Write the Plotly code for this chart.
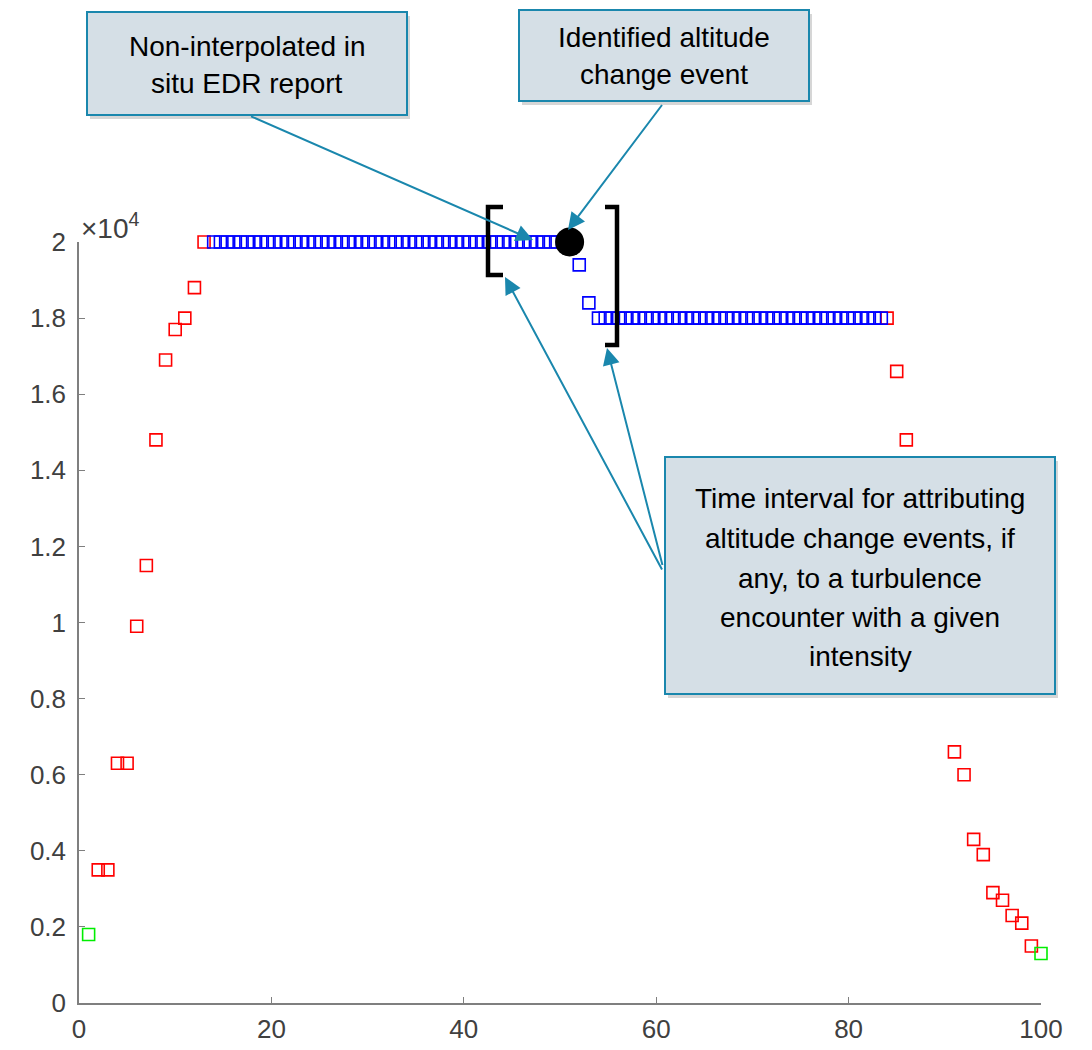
import plotly.graph_objects as go

# ---------------- data ----------------
# climb / descent reports (red), time index vs altitude (ft)
red_x = [2, 3, 4, 5, 6, 7, 8, 9, 10, 11, 12, 13,
         84, 85, 86, 91, 92, 93, 94, 95, 96, 97, 98, 99]
red_y = [3500, 3500, 6300, 6300, 9900, 11500, 14800, 16900, 17700, 18000, 18800, 20000,
         18000, 16600, 14800, 6600, 6000, 4300, 3900, 2900, 2700, 2300, 2100, 1500]

# first / last reports (green)
green_x = [1, 100]
green_y = [1800, 1300]

# interpolated cruise reports (blue)
blue_x = [14.0, 14.7, 15.4, 16.1, 16.8, 17.5, 18.2, 18.9, 19.6, 20.3, 21.0, 21.7, 22.4,
          23.1, 23.8, 24.5, 25.2, 25.9, 26.6, 27.3, 28.0, 28.7, 29.4, 30.1, 30.8, 31.5,
          32.2, 32.9, 33.6, 34.3, 35.0, 35.7, 36.4, 37.1, 37.8, 38.5, 39.2, 39.9, 40.6,
          41.3, 42.0, 42.7, 43.4, 44.1, 44.8, 45.5, 46.2, 46.9, 47.6, 48.3, 49.0, 49.7,
          50.4, 51.1,
          52, 53,
          54.0, 54.7, 55.4, 56.1, 56.8, 57.5, 58.2, 58.9, 59.6, 60.3, 61.0, 61.7, 62.4,
          63.1, 63.8, 64.5, 65.2, 65.9, 66.6, 67.3, 68.0, 68.7, 69.4, 70.1, 70.8, 71.5,
          72.2, 72.9, 73.6, 74.3, 75.0, 75.7, 76.4, 77.1, 77.8, 78.5, 79.2, 79.9, 80.6,
          81.3, 82.0, 82.7, 83.4]
blue_y = ([20000] * 54) + [19400, 18400] + ([18000] * 43)

# non-interpolated in situ EDR report (yellow)
edr_x = [48]
edr_y = [20100]

# identified altitude change event (black)
event_x = [51]
event_y = [20000]

x_tickvals = [0, 20, 40, 60, 80, 100]
x_ticktext = ["0", "20", "40", "60", "80", "100"]
y_tickvals = [0, 2000, 4000, 6000, 8000, 10000, 12000, 14000, 16000, 18000, 20000]
y_ticktext = ["0", "0.2", "0.4", "0.6", "0.8", "1", "1.2", "1.4", "1.6", "1.8", "2"]

box1_lines = ["Non-interpolated in", "situ EDR report"]
box2_lines = ["Identified altitude", "change event"]
box3_lines = ["Time interval for attributing", "altitude change events, if",
              "any, to a turbulence", "encounter with a given", "intensity"]

# ---------------- layout helpers ----------------
# page offset of the figure inside the browser (default body margin)
OFF = 8
W, H = 1092 - OFF, 1050 - OFF
L, R, T, B = 79, 1041, 242, 1003   # plot area in page pixels


def px(x):
    return (x - L) / (R - L)


def py(y):
    return (B - y) / (B - T)


FONT = "Liberation Sans, Arial, sans-serif"
TEAL = "#1a87ad"
FILL = "#d5dfe6"

fig = go.Figure()

sq = dict(symbol="square-open", size=12, line=dict(width=1.6))
fig.add_trace(go.Scatter(x=red_x, y=red_y, mode="markers", cliponaxis=False,
                         marker=dict(color="#ff0000", **sq)))
fig.add_trace(go.Scatter(x=blue_x, y=blue_y, mode="markers", cliponaxis=False,
                         marker=dict(color="#0000ff", **sq)))
fig.add_trace(go.Scatter(x=green_x, y=green_y, mode="markers", cliponaxis=False,
                         marker=dict(color="#00ee00", **sq)))
fig.add_trace(go.Scatter(x=edr_x, y=edr_y, mode="markers", cliponaxis=False,
                         marker=dict(symbol="square", size=11, color="#ffff00",
                                     line=dict(color="black", width=1.5))))
fig.add_trace(go.Scatter(x=event_x, y=event_y, mode="markers", cliponaxis=False,
                         marker=dict(symbol="circle", size=29, color="black",
                                     line=dict(width=0))))

shapes = []
# brackets
lb = f"M {px(503)} {py(207)} L {px(488)} {py(207)} L {px(488)} {py(275)} L {px(503)} {py(275)}"
rb = f"M {px(605)} {py(207)} L {px(617)} {py(207)} L {px(617)} {py(345)} L {px(605)} {py(345)}"
for p in (lb, rb):
    shapes.append(dict(type="path", xref="paper", yref="paper", path=p,
                       line=dict(color="black", width=4.5)))

# callout boxes (shadow + box)
boxes = [(87, 12, 407, 115), (519, 10, 809, 101), (665, 457, 1055, 694)]
for (x0, y0, x1, y1) in boxes:
    shapes.append(dict(type="rect", xref="paper", yref="paper",
                       x0=px(x0 + 3), x1=px(x1 + 3), y0=py(y0 + 4), y1=py(y1 + 4),
                       fillcolor="rgba(0,0,0,0.16)", line=dict(width=0), layer="above"))
    shapes.append(dict(type="rect", xref="paper", yref="paper",
                       x0=px(x0), x1=px(x1), y0=py(y0), y1=py(y1),
                       fillcolor=FILL, line=dict(color=TEAL, width=2), layer="above"))

annotations = []
# arrows: (tail_x, tail_y, head_x, head_y)
arrows = [(248, 115, 533, 240), (665, 101, 568, 230),
          (665, 575, 505, 277), (665, 575, 607, 348)]
for (tx, ty, hx, hy) in arrows:
    annotations.append(dict(x=px(hx), y=py(hy), xref="paper", yref="paper",
                            ax=tx - hx, ay=ty - hy, axref="pixel", ayref="pixel",
                            showarrow=True, arrowhead=2, arrowsize=1.7, arrowwidth=2,
                            arrowcolor=TEAL, text=" ", standoff=0))


def add_lines(lines, cx, ys):
    for t, yy in zip(lines, ys):
        annotations.append(dict(x=px(cx), y=py(yy), xref="paper", yref="paper",
                                text=t, showarrow=False, xanchor="center", yanchor="middle",
                                font=dict(family=FONT, size=28, color="black")))


add_lines(box1_lines, 247, [46, 84])
add_lines(box2_lines, 664, [37, 75])
add_lines(box3_lines, 860, [499, 538, 578, 617, 656])

# exponent label
annotations.append(dict(x=0, y=1, xref="paper", yref="paper", xanchor="left",
                        yanchor="bottom", yshift=-4, showarrow=False,
                        text="\u00d710<sup>4</sup>",
                        font=dict(family=FONT, size=28, color="#404040")))

axis_common = dict(showgrid=False, zeroline=False, showline=True, linecolor="#7f7f7f",
                   linewidth=1.5, ticks="inside", ticklen=6, tickcolor="#7f7f7f",
                   automargin=False,
                   tickfont=dict(family=FONT, size=26, color="#404040"))

fig.update_layout(
    width=W, height=H,
    margin=dict(l=L - OFF, r=W - (R - OFF), t=T - OFF, b=H - (B - OFF)),
    paper_bgcolor="white", plot_bgcolor="white",
    showlegend=False,
    shapes=shapes, annotations=annotations,
    xaxis=dict(range=[0, 100], tickvals=x_tickvals, ticktext=x_ticktext,
               ticklabelstandoff=2, **axis_common),
    yaxis=dict(range=[0, 20000], tickvals=y_tickvals, ticktext=y_ticktext,
               ticklabelstandoff=6, **axis_common),
)

fig.write_html("out.html")
